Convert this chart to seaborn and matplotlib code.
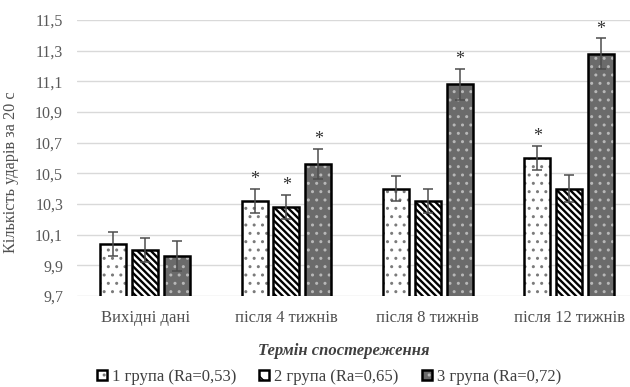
import numpy as np
import pandas as pd
import matplotlib
matplotlib.use("Agg")
import matplotlib.pyplot as plt
import seaborn as sns
from matplotlib.patches import Patch
from matplotlib.colors import to_rgba

categories = ["Вихідні дані", "після 4 тижнів", "після 8 тижнів", "після 12 тижнів"]
groups = ["1 група (Ra=0,53)", "2 група (Ra=0,65)", "3 група (Ra=0,72)"]
group1 = [10.04, 10.32, 10.40, 10.60]
group2 = [10.00, 10.28, 10.32, 10.40]
group3 = [9.96, 10.56, 11.08, 11.28]
err1 = [0.08, 0.08, 0.08, 0.08]
err2 = [0.08, 0.08, 0.08, 0.09]
err3 = [0.10, 0.10, 0.10, 0.10]
star1 = [False, True, False, True]
star2 = [False, True, False, False]
star3 = [False, True, True, True]
yticks = [9.7, 9.9, 10.1, 10.3, 10.5, 10.7, 10.9, 11.1, 11.3, 11.5]

sns.set_theme(style="white")
plt.rcParams["font.family"] = ["Liberation Serif", "DejaVu Serif"]
plt.rcParams["hatch.linewidth"] = 1.0

rows = []
for g, vals in zip(groups, [group1, group2, group3]):
    for c, v in zip(categories, vals):
        rows.append({"cat": c, "grp": g, "val": v})
df = pd.DataFrame(rows)

fig = plt.figure(figsize=(6.3, 3.87), dpi=100)
ax = fig.add_axes([77 / 630, 1 - 296 / 387, 553 / 630, 276 / 387])

fills = ["white", "white", "#6b6b6b"]
hatches = ["..", "\\\\\\\\\\", ".."]
hcols = ["#7a7a7a", "black", "#b8b8b8"]
hlw = [1.0, 1.7, 1.0]

sns.barplot(data=df, x="cat", y="val", hue="grp", order=categories, hue_order=groups,
            palette=fills, width=0.673, gap=0.18, errorbar=None,
            edgecolor="black", linewidth=1.8, legend=False, ax=ax, saturation=1)

errs = [err1, err2, err3]
stars = [star1, star2, star3]
bar_conts = list(ax.containers)
for i, cont in enumerate(bar_conts):
    xs, hs = [], []
    for p in cont.patches:
        p.set_hatch(hatches[i])
        p.set_facecolor(fills[i])
        p.set_edgecolor("black")
        p._hatch_color = to_rgba(hcols[i])
        try:
            p._hatch_linewidth = hlw[i]
        except Exception:
            pass
        xs.append(p.get_x() + p.get_width() / 2)
        hs.append(p.get_height())
    ax.errorbar(xs, hs, yerr=errs[i], fmt="none", ecolor="#4d4d4d",
                elinewidth=1.1, capsize=3.5, capthick=1.1, zorder=5)
    for x, h, e, s in zip(xs, hs, errs[i], stars[i]):
        if s:
            ax.text(x, h + e + 0.005, "*", ha="center", va="bottom",
                    fontsize=13, color="#333333", zorder=6)

ax.set_ylim(9.7, 11.5)
ax.set_xlim(-0.481, 3.43)
ax.set_yticks(yticks)
ax.set_yticklabels([f"{t:.1f}".replace(".", ",") for t in yticks])
ax.yaxis.grid(True, color="#d9d9d9", linewidth=1.0)
ax.set_axisbelow(True)
for s in ax.spines.values():
    s.set_visible(False)
ax.tick_params(axis="y", length=0, pad=10, labelsize=11.5, labelcolor="#595959")
ax.tick_params(axis="x", length=0, pad=10, labelsize=12, labelcolor="#505050")
ax.set_ylabel("Кількість ударів за 20 с", fontsize=11.7, color="#505050")
ax.yaxis.set_label_coords(-0.105, 0.45)
ax.set_xlabel("Термін спостереження", fontsize=12, fontweight="bold",
              fontstyle="italic", color="#404040")
ax.xaxis.set_label_coords((344 - 77) / 553, -(343 - 296) / 276)

handles = []
for i in range(3):
    hp = Patch(facecolor=fills[i], edgecolor="black", hatch=hatches[i] if i != 1 else "\\\\", linewidth=1.8)
    hp._hatch_color = to_rgba(hcols[i])
    handles.append(hp)
leg = fig.legend(handles, groups, loc="center", bbox_to_anchor=(329 / 630, 1 - 377 / 387),
                 ncol=3, frameon=False, fontsize=12, handlelength=0.6, handleheight=0.6,
                 handletextpad=0.3, columnspacing=1.4, labelcolor="#404040")

fig.savefig("out.png", dpi=100)
